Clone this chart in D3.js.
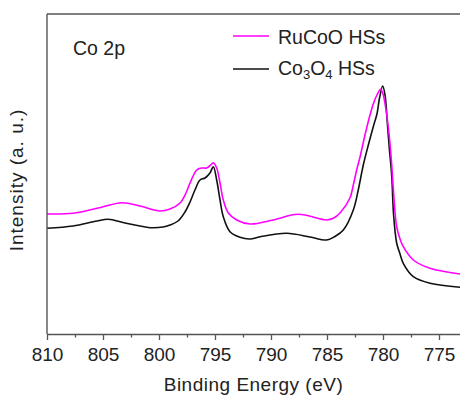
<!DOCTYPE html>
<html><head><meta charset="utf-8">
<script src="https://cdn.jsdelivr.net/npm/d3@7"></script>
<style>
html,body{margin:0;padding:0;background:#fff;}
svg{display:block;font-family:"Liberation Sans",Arial,sans-serif;}
</style></head>
<body><svg id="c" width="460" height="398"></svg>
<script>
// Binding energy (eV) and intensity (a.u.)
const rucooEnergy = [810.00,807.68,805.54,803.30,801.70,799.91,799.02,798.12,797.59,797.23,796.63,796.19,795.74,795.29,795.15,794.85,794.55,794.26,793.81,793.06,791.87,789.79,787.56,785.03,784.40,783.84,782.95,782.65,782.35,782.05,781.61,781.16,780.87,780.54,780.21,780.00,779.73,779.46,779.24,779.06,778.78,778.48,778.19,777.29,775.80,773.12];
const rucooIntensity = [120,120.7,125.7,131.3,128,123,125,131,141,151,164,166,166,170,171.3,166,151,134,121,114,110,114,119.7,114,116,121,136,149,164,177,199,219,230,239,244.7,240,224,200,172,142,107.3,95,87.3,74,65.7,60];
const co3o4Energy = [810.00,807.68,805.54,804.53,803.04,800.80,799.64,799.02,798.30,797.68,797.23,796.79,796.34,795.89,795.45,795.15,794.85,794.55,794.26,793.66,792.77,791.87,790.98,788.60,786.52,785.03,784.30,783.54,782.65,782.21,781.76,781.31,780.80,780.54,780.31,780.03,779.82,779.62,779.44,779.22,779.06,778.78,778.48,778.19,777.29,775.80,773.12];
const co3o4Intensity = [105.7,108,113,114.7,111,106.3,107,109,113,122,132,144,154,156,161,167.3,154,134,117.3,102.3,96.7,95,97.3,100.7,97,94,97.5,104,124,144,169,189,210,220,236,248,239,212,186,158,120,91,80,70.7,57.3,50.7,46.7];
const majorTicks = [810,805,800,795,790,785,780,775];
const minorTicks = [807.5,802.5,797.5,792.5,787.5,782.5,777.5];
const seriesNames = ["RuCoO HSs","Co3O4 HSs"];
const seriesColors = ["#ff00ff","#111111"];

const svg = d3.select("#c");
const mL = 47, mT = 14, mB = 334, mR = 460;
const x = d3.scaleLinear().domain([810, 772]).range([mL, mL + 38*11.2]);
const y = d3.scaleLinear().domain([0, 320]).range([mB, mT]);

svg.append("clipPath").attr("id","clip").append("rect")
  .attr("x", mL).attr("y", mT).attr("width", mR-mL).attr("height", mB-mT);

const line = d3.line().x(d=>x(d[0])).y(d=>y(d[1])).curve(d3.curveCatmullRom.alpha(0.5));
const data = [
  d3.zip(rucooEnergy, rucooIntensity),
  d3.zip(co3o4Energy, co3o4Intensity)
];
const g = svg.append("g").attr("clip-path","url(#clip)");
[1,0].forEach(i=>{
  g.append("path").datum(data[i]).attr("d", line)
    .attr("fill","none").attr("stroke", seriesColors[i]).attr("stroke-width",1.6)
    .attr("stroke-linejoin","round");
});

// frame
const axisColor = "#555";
svg.append("line").attr("x1",mL).attr("x2",mR).attr("y1",mT).attr("y2",mT)
  .attr("stroke",axisColor).attr("stroke-width",1.4);
svg.append("line").attr("x1",mL).attr("x2",mL).attr("y1",mT).attr("y2",mB)
  .attr("stroke",axisColor).attr("stroke-width",1.4);

// bottom axis
const xAxis = d3.axisBottom(x).tickValues(majorTicks).tickSize(6).tickPadding(8).tickFormat(d3.format("d"));
const ax = svg.append("g").attr("transform",`translate(0,${mB})`).call(xAxis);
ax.select(".domain").attr("d",`M${mL},0.5H${mR}`).attr("stroke",axisColor).attr("stroke-width",1.4);
ax.selectAll(".tick line").attr("stroke",axisColor).attr("stroke-width",1.3);
ax.selectAll(".tick text").attr("font-size",19).attr("fill","#222")
  .attr("font-family","Liberation Sans, Arial, sans-serif");
const axm = svg.append("g").attr("transform",`translate(0,${mB})`)
  .call(d3.axisBottom(x).tickValues(minorTicks).tickSize(3.5).tickFormat(""));
axm.select(".domain").remove();
axm.selectAll(".tick line").attr("stroke",axisColor).attr("stroke-width",1.3);

// axis titles
svg.append("text").attr("x",253.5).attr("y",391).attr("text-anchor","middle")
  .attr("font-size",19).attr("letter-spacing",0.5).attr("fill","#222").text("Binding Energy (eV)");
svg.append("text").attr("transform","translate(23,180) rotate(-90)").attr("text-anchor","middle")
  .attr("font-size",19).attr("letter-spacing",1).attr("fill","#222").text("Intensity (a. u.)");

// annotation
svg.append("text").attr("x",73).attr("y",55).attr("font-size",19.5).attr("fill","#222").text("Co 2p");

// legend
const legY = [36, 69];
legY.forEach((ly,i)=>{
  svg.append("line").attr("x1",233).attr("x2",269).attr("y1",ly).attr("y2",ly)
    .attr("stroke",seriesColors[i]).attr("stroke-width",1.6);
});
svg.append("text").attr("x",278).attr("y",43.5).attr("font-size",19.5).attr("fill","#222").text(seriesNames[0]);
const t2 = svg.append("text").attr("x",278).attr("y",75).attr("font-size",19.5).attr("fill","#222");
t2.append("tspan").text("Co");
t2.append("tspan").attr("font-size",13).attr("dy",4).text("3");
t2.append("tspan").attr("dy",-4).text("O");
t2.append("tspan").attr("font-size",13).attr("dy",4).text("4");
t2.append("tspan").attr("dy",-4).text(" HSs");
</script></body></html>
